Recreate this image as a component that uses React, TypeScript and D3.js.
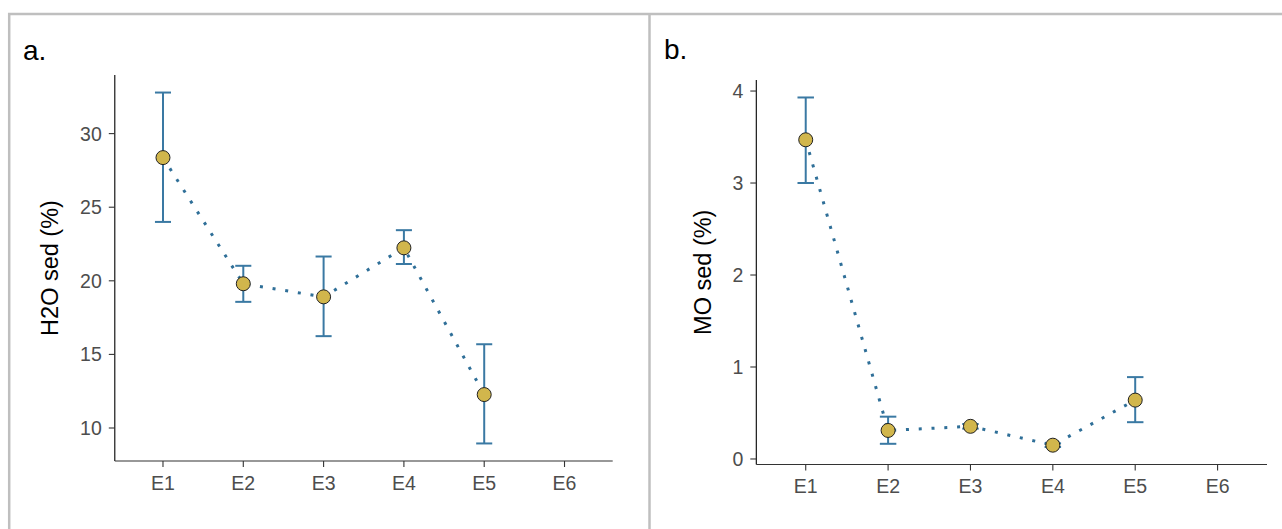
import React from "react";
import * as d3 from "d3";

const categories = ["E1", "E2", "E3", "E4", "E5", "E6"];

// Panel a: H2O sed (%)
const h2oMean = [28.37, 19.8, 18.91, 22.24, 12.27];
const h2oLow = [24.0, 18.57, 16.24, 21.14, 8.95];
const h2oHigh = [32.79, 21.02, 21.65, 23.44, 15.69];
const h2oTicks = [10, 15, 20, 25, 30];

// Panel b: MO sed (%)
const moMean = [3.47, 0.31, 0.355, 0.15, 0.64];
const moLow = [3.0, 0.165, 0.33, 0.13, 0.4];
const moHigh = [3.93, 0.46, 0.38, 0.17, 0.89];
const moTicks = [0, 1, 2, 3, 4];

const ERR = "#3a79a3";
const LINE = "#2f6f98";
const PT = "#d1b64c";
const TICK_TXT = "#4d4d4d";
const FONT = "'Liberation Sans', Arial, sans-serif";
const TICK_FS = 19.5;
const TITLE_FS = 23.5;

type PanelProps = {
  tag: string;
  tagX: number;
  tagY: number;
  title: string;
  titleX: number;
  x0: number;
  x1: number;
  y0: number;
  y1: number;
  mean: number[];
  low: number[];
  high: number[];
  ticks: number[];
};

function Panel(p: PanelProps) {
  const x = d3.scalePoint<string>().domain(categories).range([p.x0, p.x1]).padding(0.6);
  const lo = d3.min(p.low) as number;
  const hi = d3.max(p.high) as number;
  const r = hi - lo;
  const y = d3.scaleLinear().domain([lo - 0.05 * r, hi + 0.05 * r]).range([p.y1, p.y0]);
  const step = x.step();
  const capW = step * 0.2;
  const data = p.mean.map((m, i) => ({ c: categories[i], m, lo: p.low[i], hi: p.high[i] }));
  const line = d3
    .line<{ c: string; m: number }>()
    .x((d) => x(d.c) as number)
    .y((d) => y(d.m));
  const tl = 6;
  return (
    <g>
      <text x={p.tagX} y={p.tagY} fontFamily={FONT} fontSize={28} fill="#000">
        {p.tag}
      </text>
      {/* axes */}
      <line x1={p.x0} x2={p.x0} y1={p.y0} y2={p.y1} stroke="#000" strokeWidth={1.1} />
      <line x1={p.x0} x2={p.x1} y1={p.y1} y2={p.y1} stroke="#333" strokeWidth={1.1} />
      {p.ticks.map((t) => (
        <g key={"y" + t}>
          <line x1={p.x0 - tl} x2={p.x0} y1={y(t)} y2={y(t)} stroke="#333" strokeWidth={1.1} />
          <text
            x={p.x0 - tl - 7}
            y={y(t)}
            dy="0.36em"
            textAnchor="end"
            fontFamily={FONT}
            fontSize={TICK_FS}
            fill={TICK_TXT}
          >
            {t}
          </text>
        </g>
      ))}
      {categories.map((c) => (
        <g key={"x" + c}>
          <line x1={x(c)} x2={x(c)} y1={p.y1} y2={p.y1 + tl} stroke="#333" strokeWidth={1.1} />
          <text
            x={x(c)}
            y={p.y1 + 28.5}
            textAnchor="middle"
            fontFamily={FONT}
            fontSize={TICK_FS}
            fill={TICK_TXT}
          >
            {c}
          </text>
        </g>
      ))}
      <text
        transform={`translate(${p.titleX},${(p.y0 + p.y1) / 2}) rotate(-90)`}
        textAnchor="middle"
        dy="0.36em"
        fontFamily={FONT}
        fontSize={TITLE_FS}
        fill="#000"
      >
        {p.title}
      </text>
      {/* error bars */}
      {data.map((d) => {
        const cx = x(d.c) as number;
        return (
          <g key={"e" + d.c} stroke={ERR} strokeWidth={2}>
            <line x1={cx} x2={cx} y1={y(d.lo)} y2={y(d.hi)} />
            <line x1={cx - capW / 2} x2={cx + capW / 2} y1={y(d.lo)} y2={y(d.lo)} />
            <line x1={cx - capW / 2} x2={cx + capW / 2} y1={y(d.hi)} y2={y(d.hi)} />
          </g>
        );
      })}
      <path
        d={line(data) as string}
        fill="none"
        stroke={LINE}
        strokeWidth={3}
        strokeDasharray="3 9.8"
      />
      {data.map((d) => (
        <circle
          key={"p" + d.c}
          cx={x(d.c) as number}
          cy={y(d.m)}
          r={7}
          fill={PT}
          stroke="#222"
          strokeWidth={1}
        />
      ))}
    </g>
  );
}

export default function App() {
  return (
    <svg
      width={1282}
      height={529}
      style={{ position: "absolute", left: 0, top: 0, background: "#fff" }}
    >
      <rect x={0} y={0} width={1282} height={529} fill="#fff" />
      <line x1={8} x2={1282} y1={14} y2={14} stroke="#bfbfbf" strokeWidth={2.5} />
      <line x1={9.2} x2={9.2} y1={13} y2={529} stroke="#bfbfbf" strokeWidth={2.5} />
      <line x1={649.5} x2={649.5} y1={13} y2={529} stroke="#bfbfbf" strokeWidth={2.5} />
      <Panel
        tag="a."
        tagX={23}
        tagY={60}
        title="H2O sed (%)"
        titleX={50}
        x0={114.8}
        x1={612.7}
        y0={75}
        y1={461}
        mean={h2oMean}
        low={h2oLow}
        high={h2oHigh}
        ticks={h2oTicks}
      />
      <Panel
        tag="b."
        tagX={664}
        tagY={59}
        title="MO sed (%)"
        titleX={702.5}
        x0={756.3}
        x1={1267}
        y0={80}
        y1={464.5}
        mean={moMean}
        low={moLow}
        high={moHigh}
        ticks={moTicks}
      />
    </svg>
  );
}
